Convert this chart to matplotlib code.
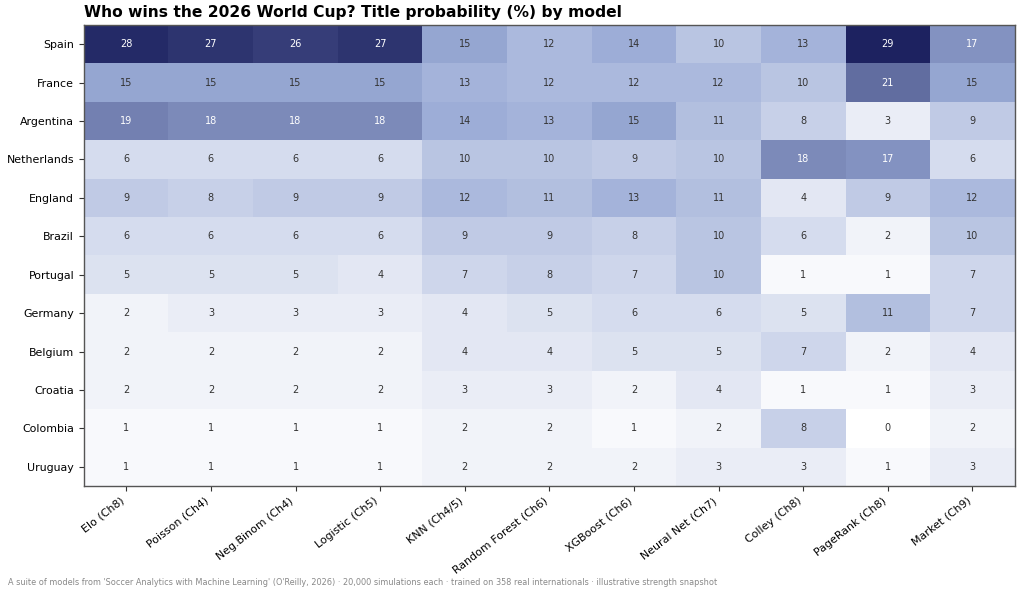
import numpy as np
import matplotlib
matplotlib.use("Agg")
import matplotlib.pyplot as plt
from matplotlib.colors import LinearSegmentedColormap

teams = ["Spain", "France", "Argentina", "Netherlands", "England", "Brazil",
         "Portugal", "Germany", "Belgium", "Croatia", "Colombia", "Uruguay"]
models = ["Elo (Ch8)", "Poisson (Ch4)", "Neg.Binom (Ch4)", "Logistic (Ch5)",
          "KNN (Ch4/5)", "Random Forest (Ch6)", "XGBoost (Ch6)", "Neural Net (Ch7)",
          "Colley (Ch8)", "PageRank (Ch8)", "Market (Ch9)"]

spain       = [28, 27, 26, 27, 15, 12, 14, 10, 13, 29, 17]
france      = [15, 15, 15, 15, 13, 12, 12, 12, 10, 21, 15]
argentina   = [19, 18, 18, 18, 14, 13, 15, 11, 8, 3, 9]
netherlands = [6, 6, 6, 6, 10, 10, 9, 10, 18, 17, 6]
england     = [9, 8, 9, 9, 12, 11, 13, 11, 4, 9, 12]
brazil      = [6, 6, 6, 6, 9, 9, 8, 10, 6, 2, 10]
portugal    = [5, 5, 5, 4, 7, 8, 7, 10, 1, 1, 7]
germany     = [2, 3, 3, 3, 4, 5, 6, 6, 5, 11, 7]
belgium     = [2, 2, 2, 2, 4, 4, 5, 5, 7, 2, 4]
croatia     = [2, 2, 2, 2, 3, 3, 2, 4, 1, 1, 3]
colombia    = [1, 1, 1, 1, 2, 2, 1, 2, 8, 0, 2]
uruguay     = [1, 1, 1, 1, 2, 2, 2, 3, 3, 1, 3]

data = np.array([spain, france, argentina, netherlands, england, brazil,
                 portugal, germany, belgium, croatia, colombia, uruguay], dtype=float)

cmap = LinearSegmentedColormap.from_list(
    "navy", [(0.0, "#ffffff"), (0.5, "#9aabd6"), (1.0, "#1d2260")])

fig = plt.figure(figsize=(10.24, 5.97), dpi=100)
ax = fig.add_axes([0.082, 0.186, 0.909, 0.772])
ax.imshow(data, cmap=cmap, vmin=0, vmax=29, aspect="auto", interpolation="nearest")

for i in range(data.shape[0]):
    for j in range(data.shape[1]):
        v = data[i, j]
        ax.text(j, i, f"{v:.0f}", ha="center", va="center", fontsize=7,
                color="white" if v > 16 else "#333333")

ax.set_xticks(range(len(models)))
ax.set_xticklabels(models, rotation=38, ha="right", fontsize=7.9)
ax.set_yticks(range(len(teams)))
ax.set_yticklabels(teams, fontsize=7.9)
ax.tick_params(length=3.5, width=0.8, color="#333333")
for s in ax.spines.values():
    s.set_color("#555555")
    s.set_linewidth(1.0)

fig.text(0.082, 0.966, "Who wins the 2026 World Cup? Title probability (%) by model",
         fontsize=11.2, fontweight="bold", ha="left", va="bottom")
fig.text(0.008, 0.016,
         "A suite of models from 'Soccer Analytics with Machine Learning' (O'Reilly, 2026) \u00b7 20,000 simulations each \u00b7 trained on 358 real internationals \u00b7 illustrative strength snapshot",
         fontsize=5.9, color="#888888", ha="left", va="bottom", family="DejaVu Sans")

fig.savefig("out.png", dpi=100)
